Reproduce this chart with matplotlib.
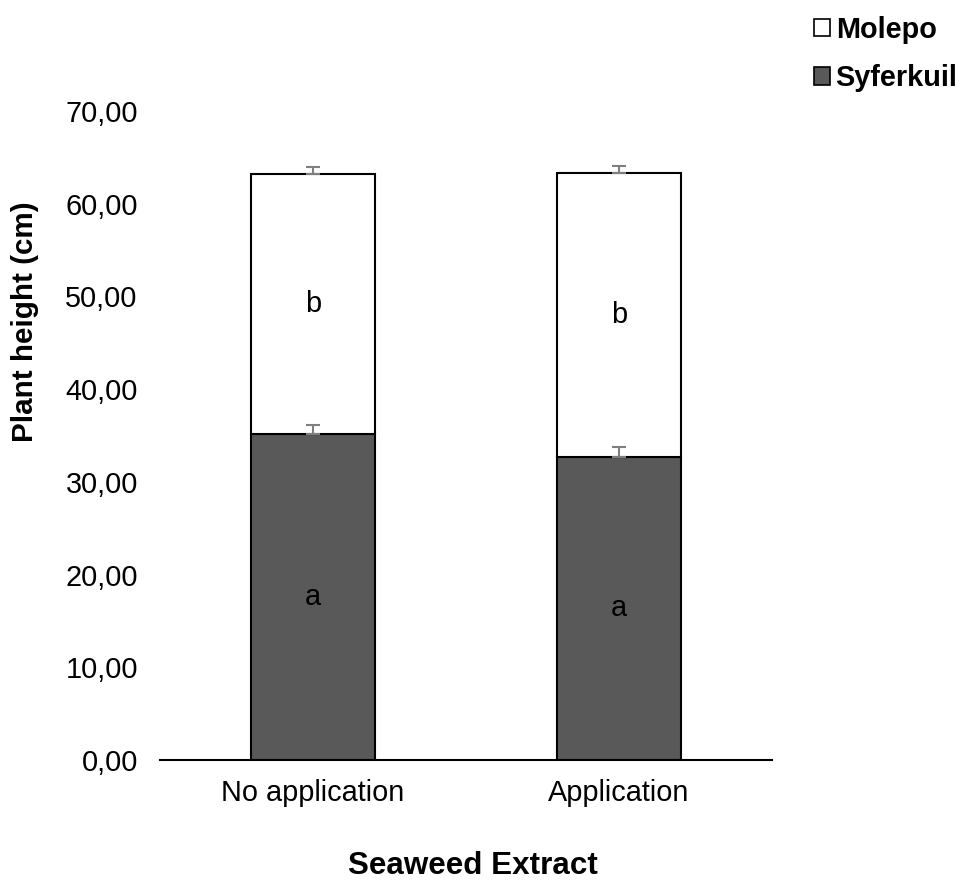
import matplotlib
matplotlib.use("Agg")
import matplotlib.pyplot as plt
from matplotlib.patches import Patch
from matplotlib.ticker import FuncFormatter, MultipleLocator
import numpy as np

plt.rcParams['font.family'] = ['Liberation Sans', 'DejaVu Sans']

categories = ["No application", "Application"]
syferkuil = [35.16, 32.72]
molepo = [28.05, 30.56]
syferkuil_err = [0.97, 1.08]
molepo_err = [0.72, 0.79]
syferkuil_letters = ["a", "a"]
molepo_letters = ["b", "b"]

FS = 20.8
fig = plt.figure(figsize=(9.63, 8.8), dpi=100)
ax = fig.add_axes([160/963, 1-760/880, 612/963, 649/880])

x = np.arange(len(categories))
w = 0.405
ax.bar(x, syferkuil, w, color="#595959", edgecolor="black", linewidth=1.5, zorder=2)
ax.bar(x, molepo, w, bottom=syferkuil, color="white", edgecolor="black", linewidth=1.5, zorder=2)

tot = np.array(syferkuil) + np.array(molepo)
ax.errorbar(x, syferkuil, yerr=[np.zeros(2), syferkuil_err], fmt="none", ecolor="#7f7f7f",
            elinewidth=1.5, capsize=5, capthick=1.5, zorder=3)
ax.errorbar(x, tot, yerr=[np.zeros(2), molepo_err], fmt="none", ecolor="#7f7f7f",
            elinewidth=1.5, capsize=5, capthick=1.5, zorder=3)

for i in range(len(categories)):
    ax.text(x[i], syferkuil[i] / 2, syferkuil_letters[i], ha="center", va="center", fontsize=FS)
    ax.text(x[i], syferkuil[i] + molepo[i] / 2, molepo_letters[i], ha="center", va="center", fontsize=FS)

ax.set_xlim(-0.5, 1.5)
ax.set_ylim(0, 70)
ax.yaxis.set_major_locator(MultipleLocator(10))
ax.yaxis.set_major_formatter(FuncFormatter(lambda v, p: f"{v:.2f}".replace(".", ",")))
ax.set_xticks(x)
ax.set_xticklabels(categories)
ax.tick_params(axis="both", length=0, labelsize=FS)
ax.tick_params(axis="y", pad=16)
ax.tick_params(axis="x", pad=14)
for s in ["top", "right", "left"]:
    ax.spines[s].set_visible(False)
ax.spines["bottom"].set_linewidth(1.5)
ax.spines["bottom"].set_color("black")

fig.text(25/963, 1-322/880, "Plant height (cm)", rotation=90, ha="center", va="center",
         fontsize=FS + 0.5, fontweight="bold")
fig.text(473/963, 1-866/880, "Seaweed Extract", ha="center", va="center",
         fontsize=22.6, fontweight="bold")

handles = [Patch(facecolor="white", edgecolor="black", linewidth=1.2, label="Molepo"),
           Patch(facecolor="#595959", edgecolor="black", linewidth=1.2, label="Syferkuil")]
leg = fig.legend(handles=handles, loc="upper left", bbox_to_anchor=(814/963, 1-16/880),
                 frameon=False, handlelength=0.55, handleheight=0.55, handletextpad=0.2,
                 labelspacing=0.7, borderaxespad=0, borderpad=0,
                 prop={"size": FS, "weight": "bold"})

fig.savefig("out.png", dpi=100)
